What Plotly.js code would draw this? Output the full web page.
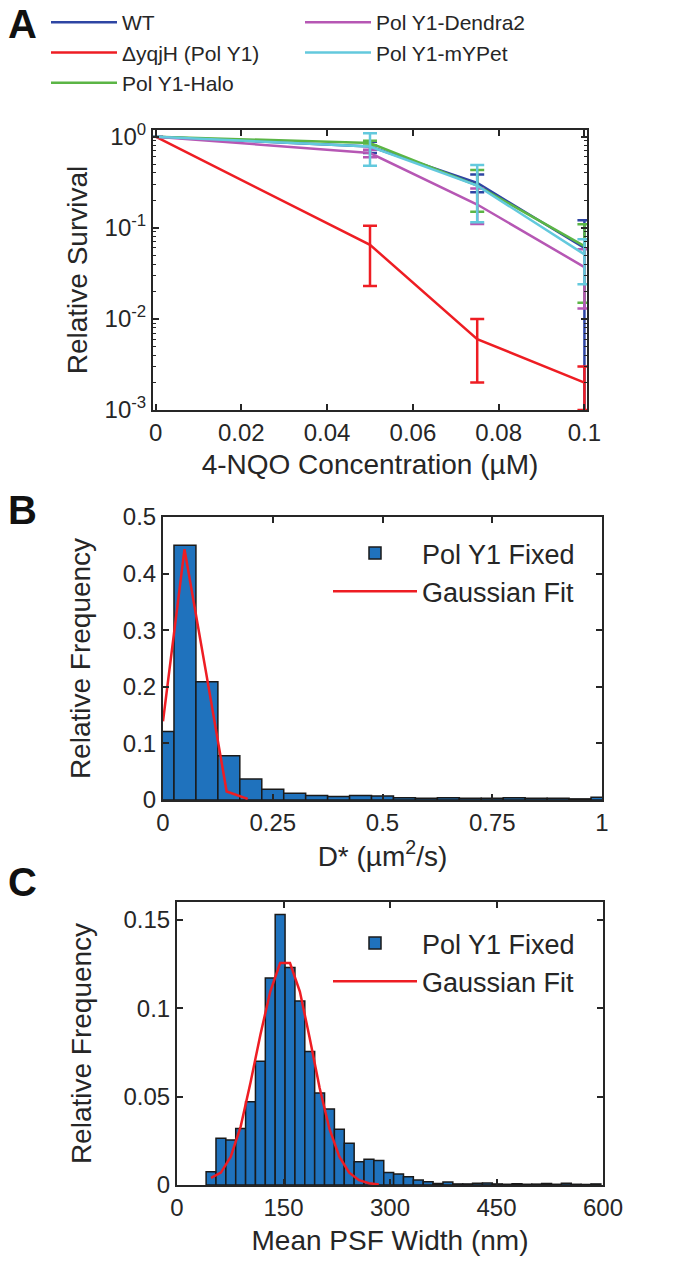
<!DOCTYPE html>
<html><head><meta charset="utf-8">
<script src="https://cdn.plot.ly/plotly-3.0.1.min.js"></script>
<style>html,body{margin:0;padding:0;background:#fff}#chart{width:674px;height:1266px}</style>
</head><body><div id="chart"></div>
<script>
// ---------- Panel A : survival vs 4-NQO ----------
const concentrations = [0, 0.05, 0.075, 0.1];
const seriesNames = ['WT', 'ΔyqjH (Pol Y1)', 'Pol Y1-Halo', 'Pol Y1-Dendra2', 'Pol Y1-mYPet'];
const wtSurvival      = [1, 0.78, 0.31, 0.06];
const wtErrPlus       = [0, 0.10, 0.075, 0.061];
const wtErrMinus      = [0, 0.12, 0.065, 0.0599];
const yqjhSurvival    = [1, 0.065, 0.006, 0.002];
const yqjhErrPlus     = [0, 0.040, 0.004, 0.001];
const yqjhErrMinus    = [0, 0.042, 0.004, 0.001];
const haloSurvival    = [1, 0.85, 0.29, 0.063];
const haloErrPlus     = [0, 0.05, 0.14, 0.046];
const haloErrMinus    = [0, 0.05, 0.14, 0.048];
const dendraSurvival  = [1, 0.66, 0.18, 0.037];
const dendraErrPlus   = [0, 0.06, 0.09, 0.021];
const dendraErrMinus  = [0, 0.065, 0.07, 0.024];
const ypetSurvival    = [1, 0.78, 0.29, 0.051];
const ypetErrPlus     = [0, 0.31, 0.20, 0.024];
const ypetErrMinus    = [0, 0.30, 0.175, 0.027];
const logTickVals  = [0.001, 0.01, 0.1, 1];
const logTickText  = ['10<sup>-3</sup>', '10<sup>-2</sup>', '10<sup>-1</sup>', '10<sup>0</sup>'];

// ---------- Panel B : D* histogram ----------
const dBinCenters = [0, 0.05, 0.1, 0.15, 0.2, 0.25, 0.3, 0.35, 0.4, 0.45, 0.5, 0.55, 0.6, 0.65, 0.7, 0.75, 0.8, 0.85, 0.9, 0.95, 1.0];
const dFrequency  = [0.121, 0.45, 0.209, 0.078, 0.037, 0.019, 0.012, 0.008, 0.006, 0.008, 0.007, 0.004, 0.003, 0.004, 0.003, 0.003, 0.004, 0.003, 0.003, 0.002, 0.005];
const dFitX = [0, 0.049, 0.097, 0.145, 0.193];
const dFitY = [0.139, 0.443, 0.23, 0.015, 0.002];

// ---------- Panel C : PSF width histogram ----------
const psfBinCenters = [47.95, 61.85, 75.75, 89.65, 103.55, 117.45, 131.35, 145.25, 159.15, 173.05,
  186.95, 200.85, 214.75, 228.65, 242.55, 256.45, 270.35, 284.25, 298.15, 312.05,
  325.95, 339.85, 353.75, 367.65, 381.55, 395.45, 409.35, 423.25, 437.15, 451.05,
  464.95, 478.85, 492.75, 506.65, 520.55, 534.45, 548.35, 562.25, 576.15, 590.05];
const psfFrequency = [0.0075, 0.0264, 0.0255, 0.032, 0.047, 0.070, 0.117, 0.153, 0.123, 0.104,
  0.0755, 0.052, 0.043, 0.0315, 0.0236, 0.0132, 0.0145, 0.0138, 0.007, 0.0062,
  0.0047, 0.0028, 0.0019, 0.0009, 0.0017, 0.0006, 0.0006, 0.0010, 0.0011, 0.0006,
  0.0004, 0.0007, 0.0004, 0.0005, 0.0009, 0.0004, 0.0010, 0.0004, 0.0003, 0.0006];
const psfFitX = [47.95, 61.85, 75.75, 89.65, 103.55, 117.45, 131.35, 145.25, 159.15,
  173.05, 186.95, 200.85, 214.75, 228.65, 242.55, 256.45, 270.35, 284.25];
const psfFitY = [0.004, 0.007, 0.016, 0.033, 0.058, 0.085, 0.1094, 0.1255, 0.1255,
  0.1094, 0.083, 0.055, 0.0317, 0.016, 0.007, 0.0027, 0.001, 0.0003];

// ---------- styling ----------
const FONT = 'Liberation Sans, Arial, Helvetica, sans-serif';
const INK = '#262626';
const colors = ['#2e45a3', '#ee1d23', '#5bb545', '#b657b4', '#63c9dd'];
const BAR_BLUE = '#1f72bd';
const FIT_RED = '#ee1d23';
const W = 674, H = 1266;
const px = v => v / W, py = v => 1 - v / H;

function ax(extra) {
  return Object.assign({
    showline: true, linecolor: INK, linewidth: 2, mirror: 'ticks',
    ticks: 'inside', ticklen: 6, tickwidth: 1.5, tickcolor: INK,
    showgrid: false, zeroline: false,
    tickfont: {size: 24, color: INK, family: FONT},
    automargin: false
  }, extra);
}

const survival = [wtSurvival, yqjhSurvival, haloSurvival, dendraSurvival, ypetSurvival];
const errPlus = [wtErrPlus, yqjhErrPlus, haloErrPlus, dendraErrPlus, ypetErrPlus];
const errMinus = [wtErrMinus, yqjhErrMinus, haloErrMinus, dendraErrMinus, ypetErrMinus];
const ranks = [1, 3, 5, 2, 4];

const traces = survival.map((s, i) => ({
  type: 'scatter', mode: 'lines', x: concentrations, y: s, name: seriesNames[i],
  line: {color: colors[i], width: 2.5},
  error_y: {type: 'data', symmetric: false, array: errPlus[i], arrayminus: errMinus[i],
            color: colors[i], thickness: 2.5, width: 7},
  legendrank: ranks[i], legend: 'legend', xaxis: 'x', yaxis: 'y', hoverinfo: 'x+y+name'
}));

traces.push({
  type: 'bar', x: dBinCenters, y: dFrequency, width: 0.05, name: 'Pol Y1 Fixed',
  marker: {color: BAR_BLUE, line: {color: '#1a1a1a', width: 1.5}},
  xaxis: 'x2', yaxis: 'y2', legend: 'legend2'
});
traces.push({
  type: 'scatter', mode: 'lines', x: dFitX, y: dFitY, name: 'Gaussian Fit',
  line: {color: FIT_RED, width: 2.5}, xaxis: 'x2', yaxis: 'y2', legend: 'legend2'
});
traces.push({
  type: 'bar', x: psfBinCenters, y: psfFrequency, width: 13.9, name: 'Pol Y1 Fixed',
  marker: {color: BAR_BLUE, line: {color: '#1a1a1a', width: 1.5}},
  xaxis: 'x3', yaxis: 'y3', legend: 'legend3'
});
traces.push({
  type: 'scatter', mode: 'lines', x: psfFitX, y: psfFitY, name: 'Gaussian Fit',
  line: {color: FIT_RED, width: 2.5}, xaxis: 'x3', yaxis: 'y3', legend: 'legend3'
});

const titleFont = {size: 28, color: INK, family: FONT};
const legFont = {size: 21, color: INK, family: FONT};
const legFont2 = {size: 27, color: INK, family: FONT};
const letterFont = {size: 40, color: '#111', family: FONT};

const layout = {
  width: W, height: H, margin: {l: 0, r: 0, t: 0, b: 0},
  paper_bgcolor: '#fff', plot_bgcolor: '#fff',
  font: {family: FONT, color: INK},
  showlegend: true, barmode: 'overlay',
  xaxis: ax({domain: [px(153), px(587)], range: [-0.0006, 0.1006], tickmode: 'linear', tick0: 0, dtick: 0.02,
    anchor: 'y', title: {text: '4-NQO Concentration (µM)', font: titleFont, standoff: 10}}),
  yaxis: ax({domain: [py(410), py(130)], type: 'log', range: [-3, 0.073], tickvals: logTickVals, ticktext: logTickText,
    anchor: 'x', minor: {ticks: 'inside', ticklen: 3, tickwidth: 1, tickcolor: INK, dtick: 'D1'},
    title: {text: 'Relative Survival', font: titleFont, standoff: 9}}),
  xaxis2: ax({domain: [px(163), px(602)], range: [0, 1], tickmode: 'linear', tick0: 0, dtick: 0.25, anchor: 'y2',
    title: {text: 'D* (µm<sup>2</sup>/s)', font: titleFont, standoff: 11}}),
  yaxis2: ax({domain: [py(800), py(517)], range: [0, 0.5], tickmode: 'linear', tick0: 0, dtick: 0.1, anchor: 'x2',
    title: {text: 'Relative Frequency', font: titleFont, standoff: 24}}),
  xaxis3: ax({domain: [px(177), px(603)], range: [0, 600], tickmode: 'linear', tick0: 0, dtick: 150, anchor: 'y3',
    title: {text: 'Mean PSF Width (nm)', font: titleFont, standoff: 11}}),
  yaxis3: ax({domain: [py(1185), py(902)], range: [0, 0.16], tickmode: 'linear', tick0: 0, dtick: 0.05, anchor: 'x3',
    title: {text: 'Relative Frequency', font: titleFont, standoff: 24}}),
  legend: {x: px(46), y: py(2), xanchor: 'left', yanchor: 'top', orientation: 'h',
    entrywidth: 173, entrywidthmode: 'pixels', itemwidth: 66, font: legFont, bgcolor: 'rgba(0,0,0,0)',
    traceorder: 'normal', tracegroupgap: 0},
  legend2: {x: px(328), y: py(529), xanchor: 'left', yanchor: 'top', font: legFont2,
    bgcolor: 'rgba(0,0,0,0)', itemwidth: 84},
  legend3: {x: px(328), y: py(919), xanchor: 'left', yanchor: 'top', font: legFont2,
    bgcolor: 'rgba(0,0,0,0)', itemwidth: 84},
  annotations: [
    {text: '<b>A</b>', x: px(6), y: py(0), xref: 'paper', yref: 'paper', xanchor: 'left', yanchor: 'top', showarrow: false, font: letterFont},
    {text: '<b>B</b>', x: px(6), y: py(486), xref: 'paper', yref: 'paper', xanchor: 'left', yanchor: 'top', showarrow: false, font: letterFont},
    {text: '<b>C</b>', x: px(6), y: py(858), xref: 'paper', yref: 'paper', xanchor: 'left', yanchor: 'top', showarrow: false, font: letterFont}
  ]
};

Plotly.newPlot('chart', traces, layout, {displayModeBar: false});
</script>
</body></html>
